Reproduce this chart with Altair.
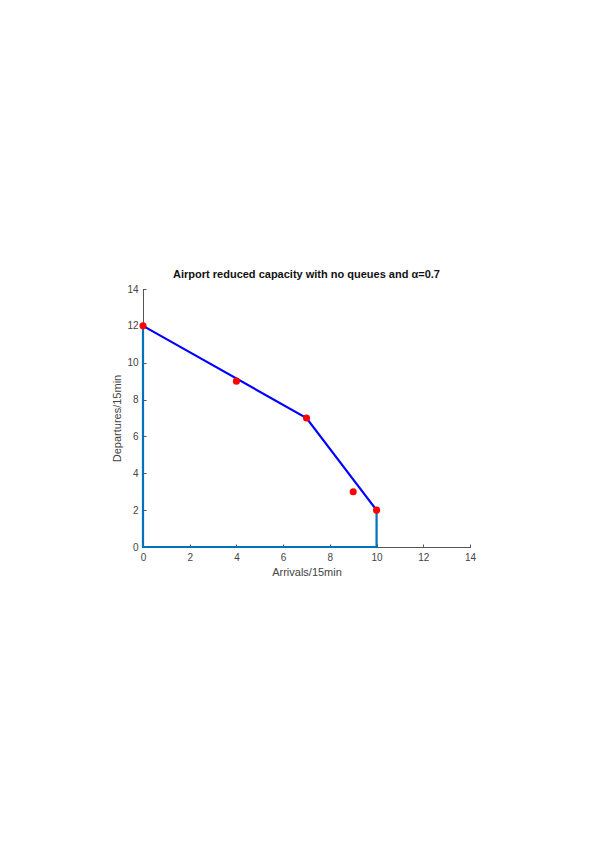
import altair as alt
import pandas as pd

# frontier (blue)
front_x = [0, 7, 10]
front_y = [12, 7, 2]
# boundary (light blue)
bound_x = [0, 0, 10, 10]
bound_y = [12, 0, 0, 2]
# red points
pts_x = [0, 4, 7, 9, 10]
pts_y = [12, 9, 7, 3, 2]
ticks = [0, 2, 4, 6, 8, 10, 12, 14]

front = pd.DataFrame({"x": front_x, "y": front_y, "o": range(len(front_x))})
bound = pd.DataFrame({"x": bound_x, "y": bound_y, "o": range(len(bound_x))})
pts = pd.DataFrame({"x": pts_x, "y": pts_y})

xs = alt.Scale(domain=[0, 14], nice=False)
ys = alt.Scale(domain=[0, 14], nice=False)

axis_common = dict(
    values=ticks, grid=False, domainColor="#555555", tickColor="#555555",
    labelColor="#444444", titleColor="#444444", labelFont="Liberation Sans",
    titleFont="Liberation Sans", labelFontSize=10, titleFontSize=11,
    titleFontWeight="normal", tickSize={"expr": "-3"}, domainWidth=1,
    labelFlush=False, labelOverlap=False,
)
xaxis = alt.Axis(title="Arrivals/15min", titlePadding=4, labelPadding=8, **axis_common)
yaxis = alt.Axis(title="Departures/15min", titlePadding=4, labelPadding=8, **axis_common)

base_x = alt.X("x:Q", scale=xs, axis=xaxis)
base_y = alt.Y("y:Q", scale=ys, axis=yaxis)

l_bound = alt.Chart(bound).mark_line(color="#0072BD", strokeWidth=2.2).encode(
    x=base_x, y=base_y, order="o:O")
l_front = alt.Chart(front).mark_line(color="#0000FF", strokeWidth=2.2).encode(
    x=base_x, y=base_y, order="o:O")
p = alt.Chart(pts).mark_circle(color="#FF0000", opacity=1, size=50).encode(
    x=base_x, y=base_y)

chart = alt.layer(l_bound, l_front, p).properties(
    width=327, height=258,
    title=alt.TitleParams("Airport reduced capacity with no queues and α=0.7",
                          font="Liberation Sans", fontSize=11, fontWeight="bold",
                          color="#111111", offset=4),
    autosize=alt.AutoSizeParams(type="none"),
    padding={"left": 135, "top": 281, "right": 120, "bottom": 280},
).configure_view(stroke=None).configure_axis(domainCap="square")

chart.save("out.html", embed_options={"renderer": "svg", "actions": False})
